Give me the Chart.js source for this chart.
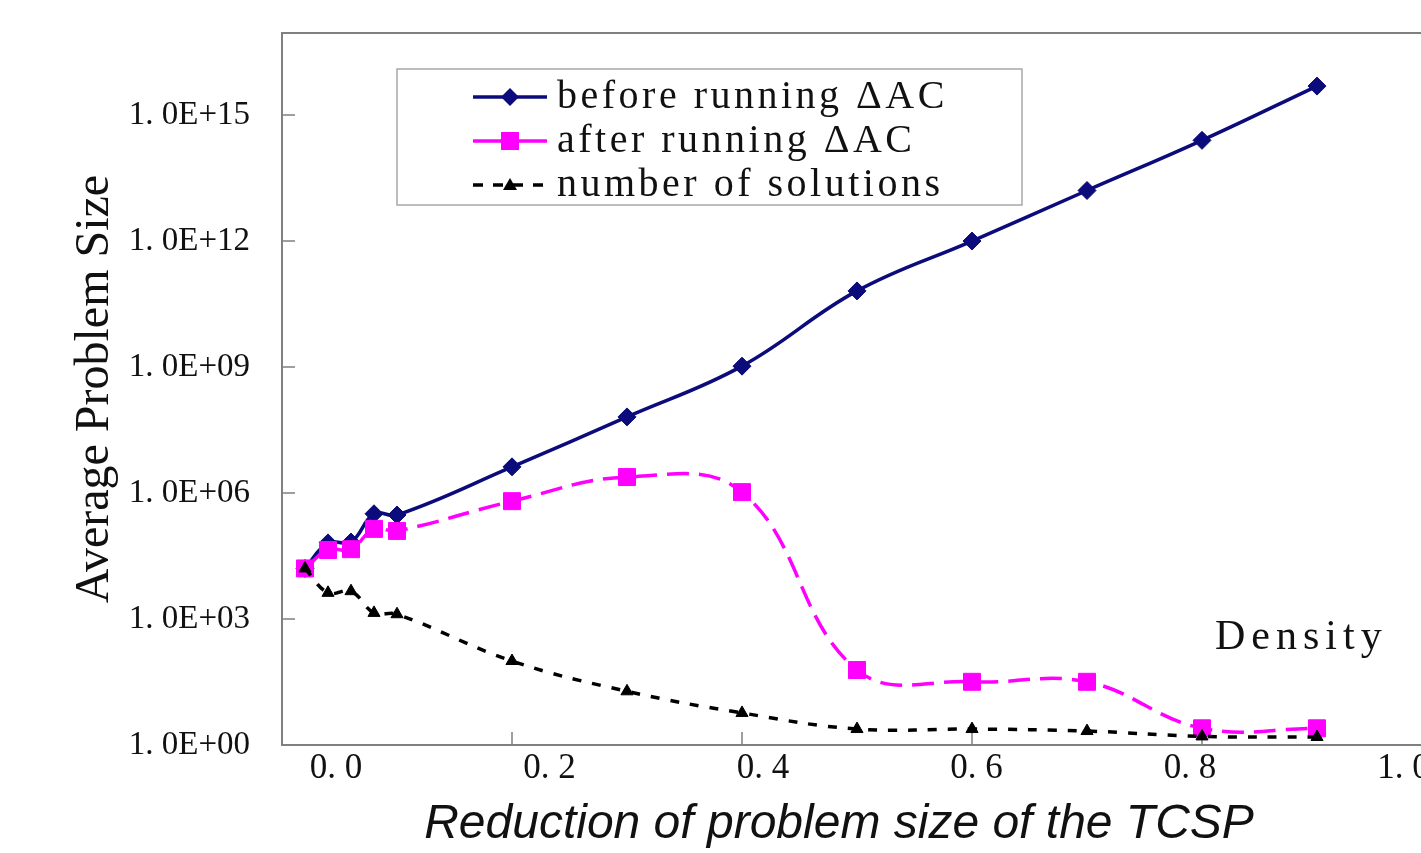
<!DOCTYPE html>
<html>
<head>
<meta charset="utf-8">
<title>Average Problem Size</title>
<script src="https://cdn.jsdelivr.net/npm/chart.js@4/dist/chart.umd.min.js"></script>
<style>
  html, body { margin: 0; padding: 0; background: #fff; overflow: hidden; }
  #wrap { width: 1500px; height: 853px; }
</style>
</head>
<body>
<div id="wrap"><canvas id="sizeChart" width="1500" height="853"></canvas></div>
<script>
// density values of the measured points
const densities = [0.02, 0.04, 0.06, 0.08, 0.1, 0.2, 0.3, 0.4, 0.5, 0.6, 0.7, 0.8, 0.9];

// average problem size
const beforeAC = [1.6e4, 6.5e4, 6.8e4, 3.2e5, 3.0e5, 4.2e6, 6.5e7, 1.05e9, 6.5e10, 1.0e12, 1.6e13, 2.5e14, 4.9e15];
const afterAC = [1.6e4, 4.4e4, 4.6e4, 1.4e5, 1.25e5, 6.4e5, 2.4e6, 1.05e6, 61, 32, 32, 2.5, 2.5];
const solutions = [1.6e4, 4.2e3, 4.6e3, 1.4e3, 1.3e3, 100, 19, 5.8, 2.4, 2.4, 2.15, 1.6, 1.55];

const yTicks = [1, 1e3, 1e6, 1e9, 1e12, 1e15];
const xTicks = [0.2, 0.4, 0.6, 0.8, 1.0];
const xLabelTicks = [0, 0.2, 0.4, 0.6, 0.8, 1.0];

const legendItems = ['before running ΔAC', 'after running ΔAC', 'number of solutions'];

const BLUE = '#0b0b7c';
const PINK = '#ff00ff';
const BLACK = '#000000';
const AXIS = '#808080';
const SERIF = "'Liberation Serif', 'DejaVu Serif', serif";

function points(values) {
  return densities.map((x, i) => ({ x: x, y: values[i] }));
}

function yLabel(v) {
  const e = Math.round(Math.log10(v));
  return '1. 0E+' + String(e).padStart(2, '0');
}

function marker(ctx, style, x, y, color) {
  ctx.fillStyle = color;
  ctx.beginPath();
  if (style === 'diamond') {
    ctx.moveTo(x, y - 9); ctx.lineTo(x + 9, y); ctx.lineTo(x, y + 9); ctx.lineTo(x - 9, y);
  } else if (style === 'square') {
    ctx.rect(x - 9, y - 9, 18, 18);
  } else {
    ctx.moveTo(x, y - 7); ctx.lineTo(x + 7, y + 5); ctx.lineTo(x - 7, y + 5);
  }
  ctx.closePath();
  ctx.fill();
}

const framePlugin = {
  id: 'frame',
  beforeDatasetsDraw(chart) {
    const { ctx, chartArea: a, scales } = chart;
    ctx.save();
    ctx.strokeStyle = AXIS;
    ctx.lineWidth = 2;
    ctx.beginPath();
    ctx.moveTo(chart.width, a.top);
    ctx.lineTo(a.left, a.top);
    ctx.lineTo(a.left, a.bottom);
    ctx.lineTo(chart.width, a.bottom);
    ctx.stroke();

    // short inward ticks
    ctx.lineWidth = 1.5;
    ctx.beginPath();
    yTicks.forEach(v => {
      const py = scales.y.getPixelForValue(v);
      ctx.moveTo(a.left, py);
      ctx.lineTo(a.left + 13, py);
    });
    xTicks.forEach(v => {
      const px = scales.x.getPixelForValue(v);
      ctx.moveTo(px, a.bottom);
      ctx.lineTo(px, a.bottom - 13);
    });
    ctx.stroke();
    ctx.restore();
  },
  afterDraw(chart) {
    const ctx = chart.ctx;
    ctx.save();

    // legend box
    ctx.strokeStyle = '#a8a8a8';
    ctx.lineWidth = 1.5;
    ctx.strokeRect(397, 69, 625, 136);

    const rows = [97, 141, 185];
    const styles = [
      { color: BLUE, dash: [], shape: 'diamond' },
      { color: PINK, dash: [], shape: 'square' },
      { color: BLACK, dash: [10, 10], shape: 'triangle' }
    ];
    rows.forEach((ry, i) => {
      const s = styles[i];
      ctx.strokeStyle = s.color;
      ctx.lineWidth = 3.5;
      ctx.setLineDash(s.dash);
      ctx.beginPath();
      ctx.moveTo(473, ry);
      ctx.lineTo(547, ry);
      ctx.stroke();
      ctx.setLineDash([]);
      marker(ctx, s.shape, 510, ry, s.color);

      ctx.fillStyle = '#111';
      ctx.font = '40px ' + SERIF;
      ctx.letterSpacing = '3.5px';
      ctx.textAlign = 'left';
      ctx.textBaseline = 'middle';
      ctx.fillText(legendItems[i], 557, ry);
    });

    // Density label inside the plot
    ctx.font = '42px ' + SERIF;
    ctx.letterSpacing = '6px';
    ctx.textBaseline = 'alphabetic';
    ctx.fillText('Density', 1215, 649);

    // x axis title
    ctx.letterSpacing = '0px';
    ctx.font = "italic 48px 'Liberation Sans', Arial, sans-serif";
    ctx.textAlign = 'center';
    ctx.fillStyle = '#111';
    ctx.fillText('Reduction of problem size of the TCSP', 839, 838);
    ctx.restore();
  }
};

new Chart(document.getElementById('sizeChart'), {
  type: 'line',
  data: {
    datasets: [
      {
        label: legendItems[0],
        data: points(beforeAC),
        borderColor: BLUE,
        backgroundColor: BLUE,
        borderWidth: 3.5,
        pointStyle: 'rectRot',
        pointRadius: 9,
        pointBorderWidth: 1,
        tension: 0.4,
        order: 2
      },
      {
        label: legendItems[1],
        data: points(afterAC),
        borderColor: PINK,
        backgroundColor: PINK,
        borderWidth: 3.5,
        borderDash: [22, 10],
        pointStyle: 'rect',
        pointRadius: 12,
        pointBorderWidth: 1,
        tension: 0.4,
        order: 1
      },
      {
        label: legendItems[2],
        data: points(solutions),
        borderColor: BLACK,
        backgroundColor: BLACK,
        borderWidth: 3.5,
        borderDash: [9, 11],
        pointStyle: 'triangle',
        pointRadius: 7,
        pointBorderWidth: 1,
        tension: 0.4,
        order: 0
      }
    ]
  },
  options: {
    responsive: false,
    animation: false,
    layout: { padding: { left: 0, top: 33, right: 20, bottom: 0 } },
    plugins: {
      legend: { display: false },
      tooltip: { enabled: false }
    },
    scales: {
      x: {
        type: 'linear',
        position: 'bottom',
        min: 0,
        max: 1198 / 1150,
        grid: { display: false },
        border: { display: false },
        ticks: { display: false },
        afterBuildTicks: scale => { scale.ticks = xTicks.map(v => ({ value: v })); },
        afterFit: scale => {
          scale.height = 0;
          scale.paddingLeft = 0;
          scale.paddingRight = 0;
        }
      },
      xl: {
        type: 'linear',
        position: 'bottom',
        min: (282 - 336) / 1067.5,
        max: (1480 - 336) / 1067.5,
        grid: { display: false },
        border: { display: false },
        ticks: {
          autoSkip: false,
          maxRotation: 0,
          padding: -3,
          color: '#111',
          font: { family: SERIF, size: 35, lineHeight: 1.05 },
          callback: v => v.toFixed(1).replace('.', '. ')
        },
        afterBuildTicks: scale => { scale.ticks = xLabelTicks.map(v => ({ value: v })); },
        afterFit: scale => {
          scale.height = 108;
          scale.paddingLeft = 0;
          scale.paddingRight = 0;
        }
      },
      y: {
        type: 'logarithmic',
        min: 1,
        max: 9e16,
        grid: { display: false },
        border: { display: false },
        ticks: {
          padding: 24,
          color: '#111',
          font: { family: SERIF, size: 33 },
          callback: v => yLabel(v)
        },
        afterBuildTicks: scale => { scale.ticks = yTicks.map(v => ({ value: v })); },
        afterFit: scale => {
          scale.width = 282;
          scale.paddingTop = 0;
          scale.paddingBottom = 0;
        },
        title: {
          display: true,
          text: 'Average Problem Size',
          color: '#111',
          font: { family: SERIF, size: 48 },
          padding: { top: 67, bottom: 0 }
        }
      }
    }
  },
  plugins: [framePlugin]
});
</script>
</body>
</html>
